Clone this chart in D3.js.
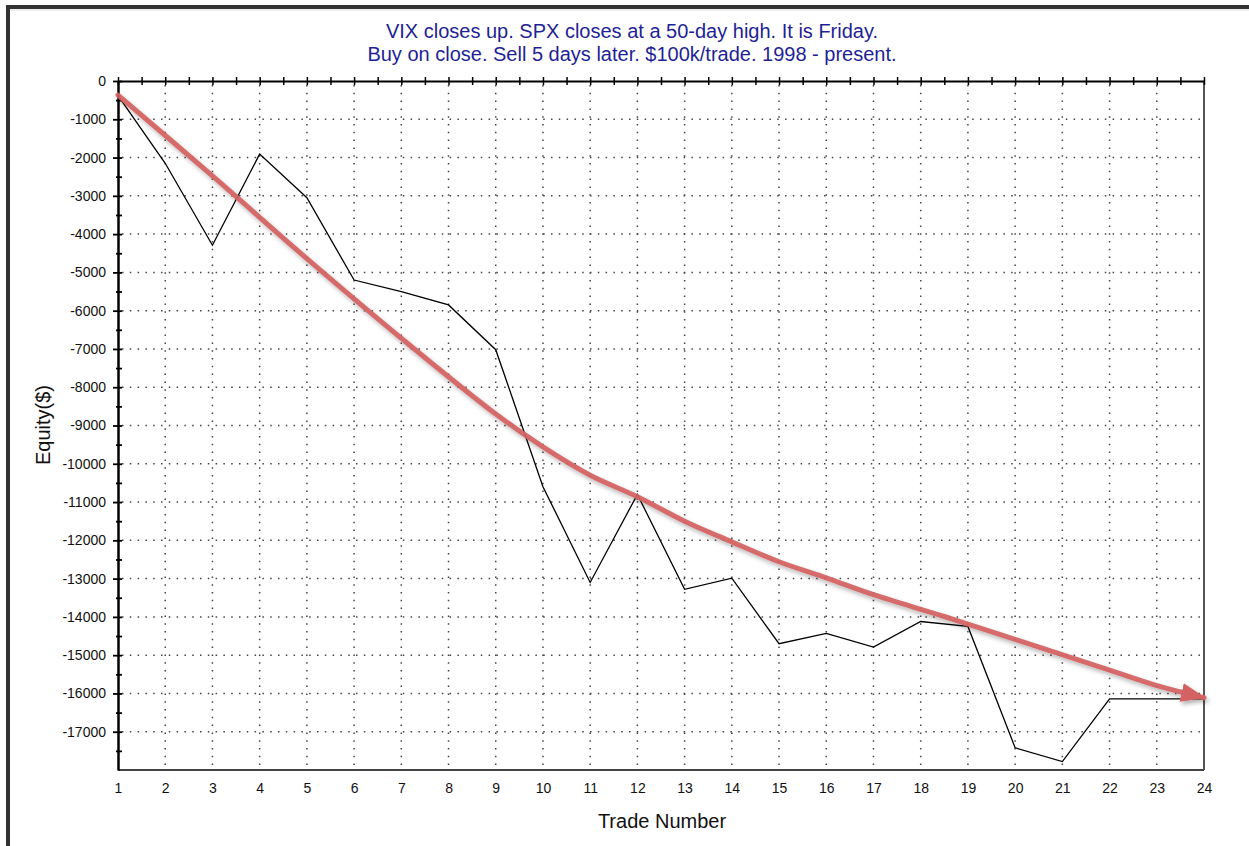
<!DOCTYPE html>
<html>
<head>
<meta charset="utf-8">
<script src="https://cdn.jsdelivr.net/npm/d3@7"></script>
<style>
  body { margin: 0; background: #fff; }
  svg text { font-family: Arial, "Liberation Sans", sans-serif; }
</style>
</head>
<body>
<div id="chart"></div>
<script>
"use strict";

// values
const trades = d3.range(1, 25);
const equity = [-380, -2150, -4290, -1910, -3050, -5200, -5500, -5850, -7020, -10600,
                -13100, -10800, -13280, -12990, -14700, -14430, -14790, -14120, -14250,
                -17420, -17780, -16140, -16140, -16140];
const yTicks = d3.range(0, -18000, -500);
const titleLines = ["VIX closes up. SPX closes at a 50-day high. It is Friday.",
                    "Buy on close. Sell 5 days later. $100k/trade. 1998 - present."];
// hand drawn trend arrow, in trade / equity units
const arrowTrade = [1, 3, 5, 7, 9, 10, 11, 12, 13, 14, 15, 16, 17, 18.5, 20, 22, 23.1, 24];
const arrowEquity = [-370, -2480, -4640, -6720, -8700, -9560, -10300, -10860, -11500, -12040,
                     -12560, -12980, -13420, -13990, -14590, -15390, -15830, -16110];

const W = 1249, H = 846;
const svg = d3.select("#chart").append("svg")
  .attr("width", W).attr("height", H)
  .attr("viewBox", `0 0 ${W} ${H}`);

const defs = svg.append("defs");
defs.append("filter").attr("id", "shadow")
  .attr("x", "-10%").attr("y", "-10%").attr("width", "120%").attr("height", "130%")
  .append("feDropShadow")
  .attr("dx", 2).attr("dy", 3).attr("stdDeviation", 2)
  .attr("flood-color", "#000").attr("flood-opacity", 0.3);
defs.append("marker").attr("id", "head")
  .attr("markerUnits", "userSpaceOnUse")
  .attr("viewBox", "0 0 25 19")
  .attr("refX", 23).attr("refY", 9.5)
  .attr("markerWidth", 25).attr("markerHeight", 19)
  .attr("orient", "auto")
  .append("path")
  .attr("d", "M0,0 L25,9.5 L0,19 Z")
  .attr("fill", "#d46262");

// outer frame
svg.append("rect").attr("x", 6).attr("y", 5).attr("width", W).attr("height", 4).attr("fill", "#333");
svg.append("rect").attr("x", 6).attr("y", 5).attr("width", 4).attr("height", H).attr("fill", "#333");
svg.append("line").attr("x1", 10).attr("x2", W).attr("y1", 10).attr("y2", 10)
  .attr("stroke", "#ddd");

const x = d3.scaleLinear().domain([1, 24]).range([118, 1204]);
const y = d3.scaleLinear().domain([-18000, 0]).range([770, 81]);

// dotted grid
const grid = svg.append("g").attr("stroke", "#444").attr("stroke-width", 1.5)
  .attr("stroke-dasharray", "1.5,6.3");
grid.selectAll(".gx").data(trades.slice(1, -1)).enter().append("line")
  .attr("x1", d => x(d)).attr("x2", d => x(d))
  .attr("y1", y(0) + 4).attr("y2", y(-18000));
grid.selectAll(".gy").data(yTicks.filter(d => d < 0 && d % 1000 === 0)).enter().append("line")
  .attr("x1", x(1) + 4).attr("x2", x(24))
  .attr("y1", d => y(d)).attr("y2", d => y(d));

// right + bottom borders
svg.append("line").attr("x1", x(24)).attr("x2", x(24)).attr("y1", y(0)).attr("y2", y(-18000))
  .attr("stroke", "#555").attr("stroke-width", 2);
svg.append("line").attr("x1", x(1)).attr("x2", x(24)).attr("y1", y(-18000)).attr("y2", y(-18000))
  .attr("stroke", "#444").attr("stroke-width", 2);

// top axis with half-step ticks
const topAxis = svg.append("g").attr("transform", `translate(0,${y(0)})`)
  .call(d3.axisTop(x).tickValues(d3.range(1, 24.5, 0.5)).tickFormat("").tickSizeOuter(0));
topAxis.select(".domain").attr("stroke", "#000").attr("stroke-width", 2);
topAxis.selectAll(".tick line").attr("y1", 4).attr("y2", -4).attr("stroke-width", 1.5);

// left axis, plain hyphen for minus
const leftAxis = svg.append("g").attr("transform", `translate(${x(1)},0)`)
  .call(d3.axisLeft(y).tickValues(yTicks)
    .tickFormat(d => d % 1000 === 0 ? String(d) : "")
    .tickSizeOuter(0).tickPadding(6));
leftAxis.select(".domain").attr("stroke", "#000").attr("stroke-width", 2.5);
leftAxis.selectAll(".tick line")
  .attr("x1", 4)
  .attr("x2", d => d % 1000 === 0 ? -5 : -2)
  .attr("stroke-width", 1.8);
leftAxis.selectAll(".tick text").attr("font-size", 14).attr("fill", "#111")
  .attr("font-family", "Arial, 'Liberation Sans', sans-serif");

// bottom labels
const bottomAxis = svg.append("g").attr("transform", `translate(0,${y(-18000)})`)
  .call(d3.axisBottom(x).tickValues(trades).tickSize(0).tickPadding(13));
bottomAxis.select(".domain").remove();
bottomAxis.selectAll(".tick text").attr("font-size", 14).attr("fill", "#111")
  .attr("font-family", "Arial, 'Liberation Sans', sans-serif");

// equity line
const line = d3.line().x((d, i) => x(trades[i])).y(d => y(d));
svg.append("path").datum(equity)
  .attr("d", line)
  .attr("fill", "none").attr("stroke", "#000").attr("stroke-width", 1.3);

// trend arrow
const arrowLine = d3.line().curve(d3.curveCatmullRom)
  .x((d, i) => x(arrowTrade[i])).y(d => y(d));
svg.append("path").datum(arrowEquity)
  .attr("d", arrowLine)
  .attr("fill", "none").attr("stroke", "#d46262").attr("stroke-width", 5)
  .attr("stroke-linecap", "round")
  .attr("stroke-opacity", 0.92)
  .attr("marker-end", "url(#head)")
  .attr("filter", "url(#shadow)");

// titles
svg.selectAll(".title").data(titleLines).enter().append("text")
  .attr("x", 632).attr("y", (d, i) => 38 + i * 23)
  .attr("text-anchor", "middle").attr("font-size", 20).attr("fill", "#1f1f96")
  .text(d => d);

svg.append("text").attr("x", 662).attr("y", 828)
  .attr("text-anchor", "middle").attr("font-size", 20).attr("fill", "#111")
  .text("Trade Number");
svg.append("text").attr("transform", "translate(50,425) rotate(-90)")
  .attr("text-anchor", "middle").attr("font-size", 20).attr("fill", "#111")
  .text("Equity($)");
</script>
</body>
</html>
